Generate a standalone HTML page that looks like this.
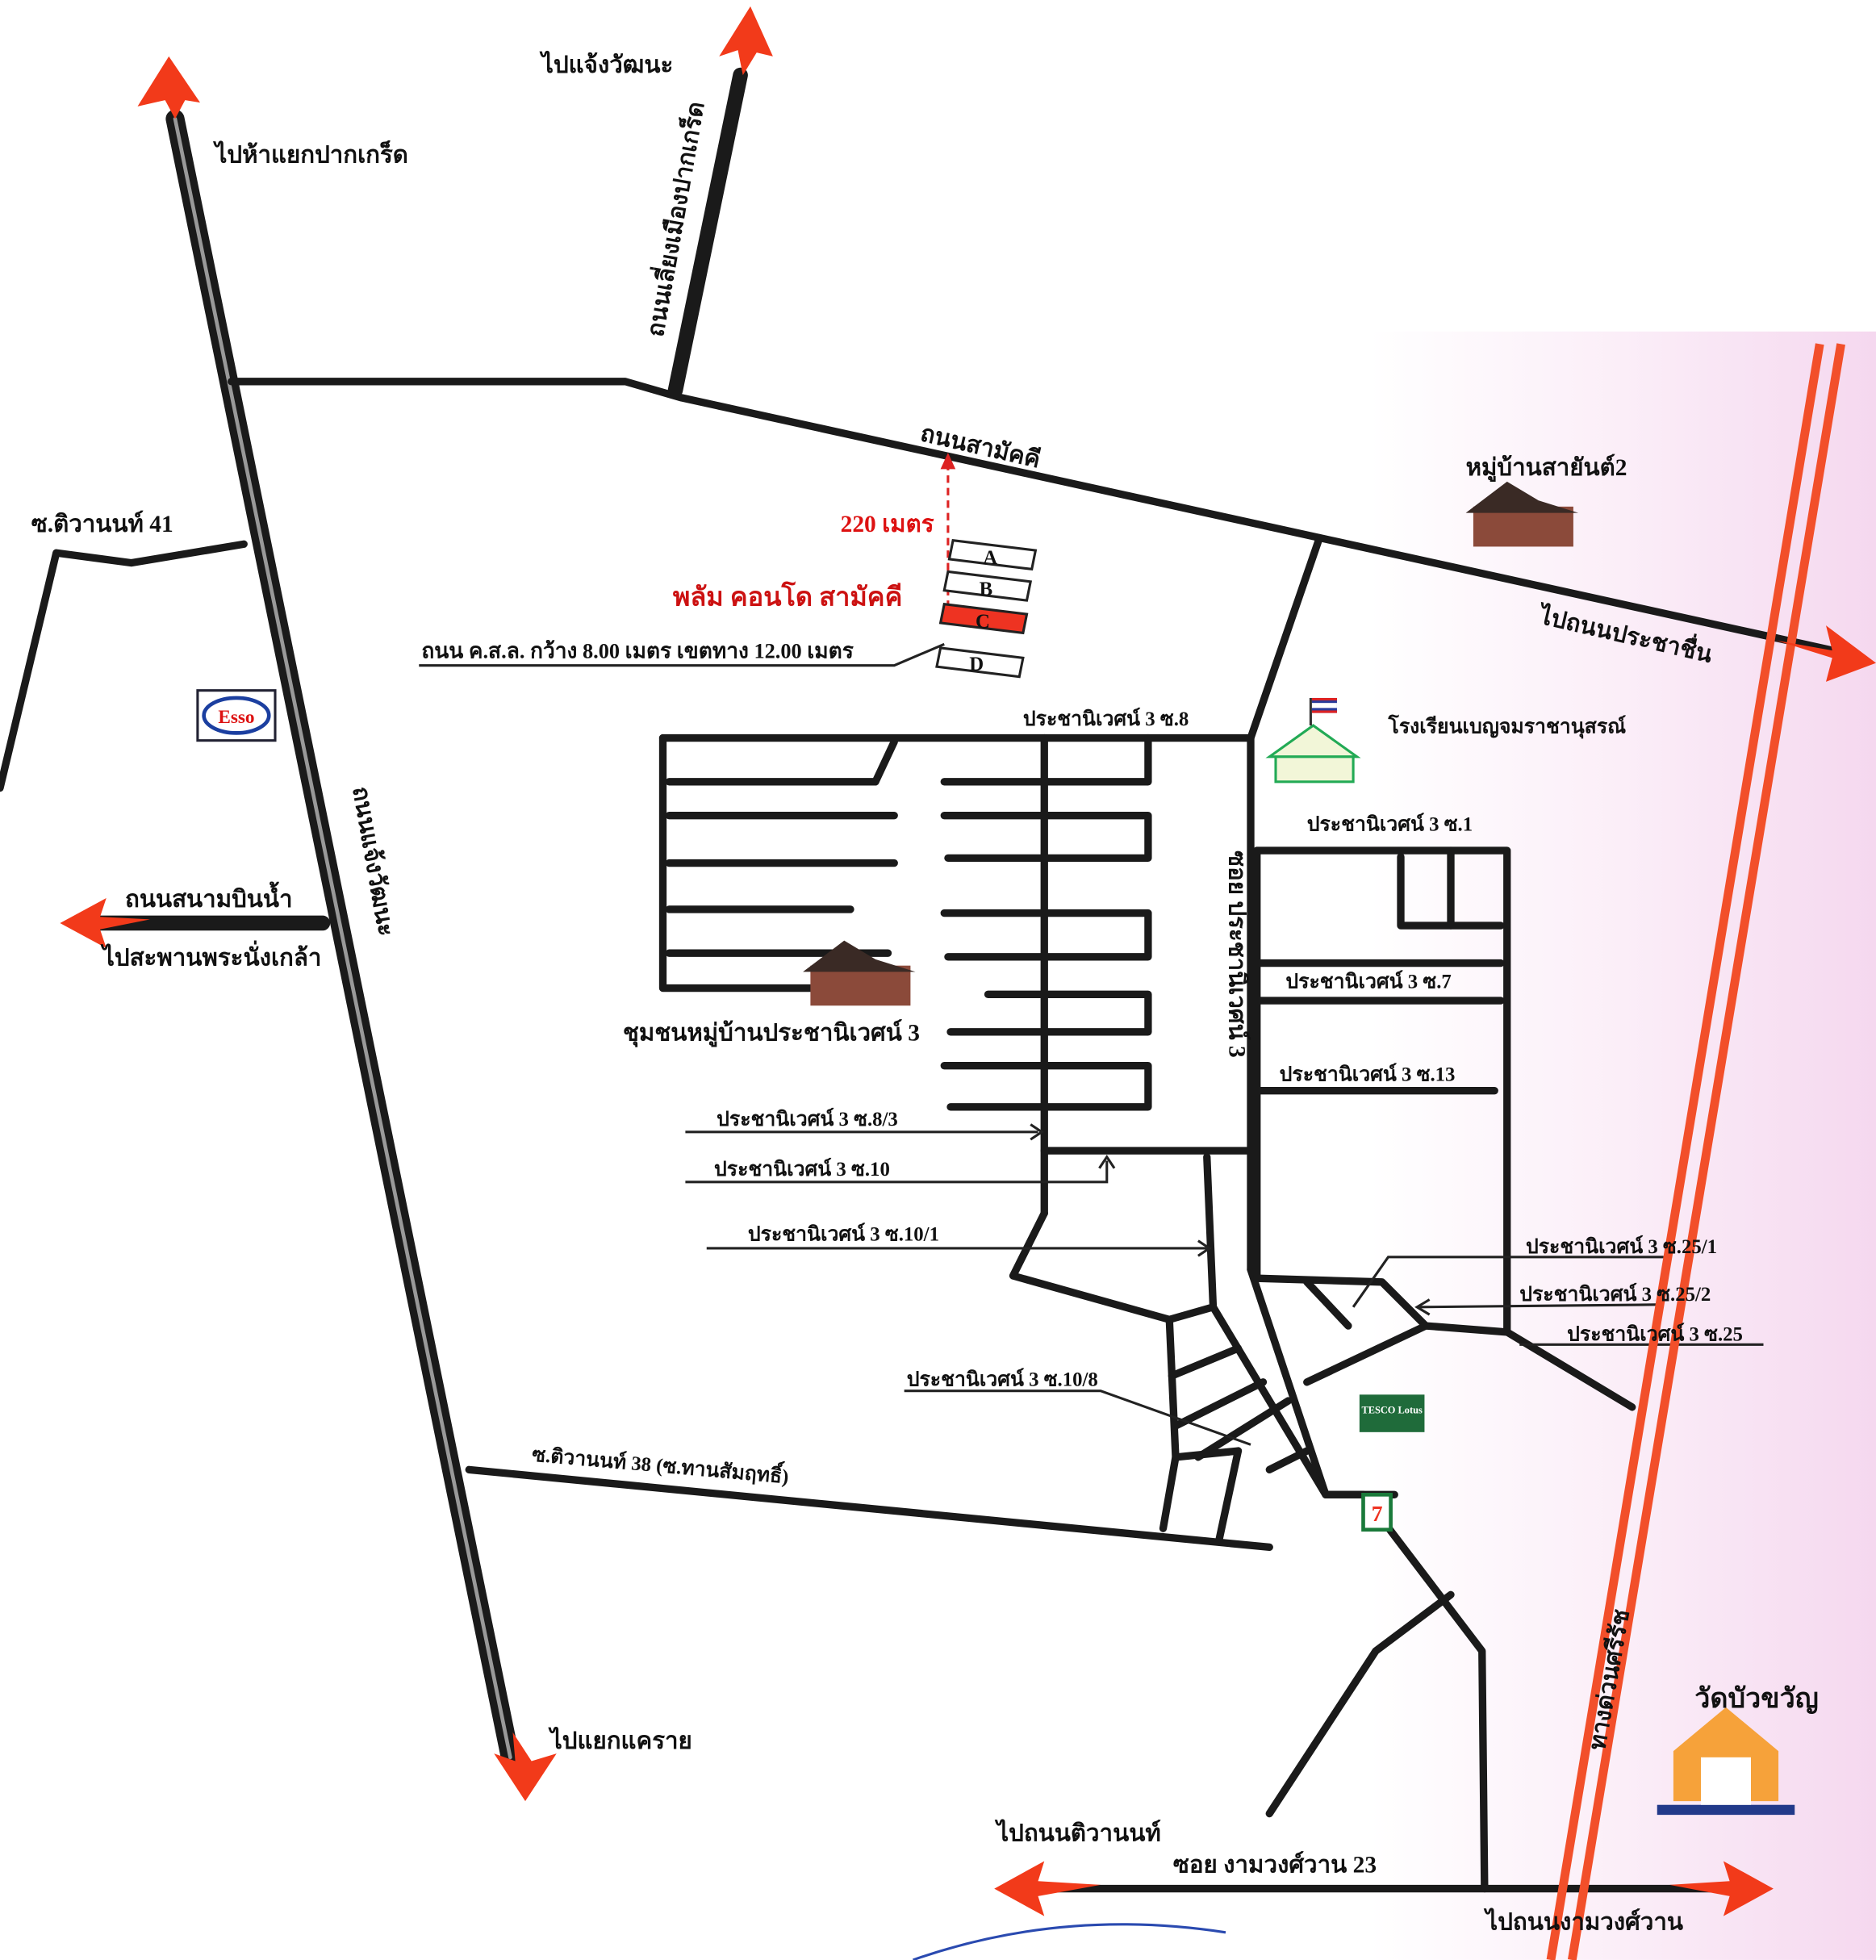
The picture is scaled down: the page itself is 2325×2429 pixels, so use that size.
<!DOCTYPE html>
<html><head><meta charset="utf-8"><style>
html,body{margin:0;padding:0;background:#fff}
svg{display:block}
text{font-family:"Liberation Serif","Noto Serif CJK SC",serif;font-weight:bold;fill:#111}
</style></head><body>
<svg width="2325" height="2429" viewBox="0 0 1500 1567" xmlns="http://www.w3.org/2000/svg">
<defs>
<linearGradient id="pk" x1="0" x2="1"><stop offset="0" stop-color="#fff"/><stop offset="0.5" stop-color="#fbeef8"/><stop offset="1" stop-color="#f5d8ef"/></linearGradient>
</defs>
<rect width="1500" height="1567" fill="#fff"/>
<rect x="1095" y="265" width="405" height="1302" fill="url(#pk)"/>
<g stroke="#1a1a1a" stroke-width="6" fill="none" stroke-linecap="round" stroke-linejoin="round">
<line x1="140" y1="95" x2="408" y2="1405" stroke-width="15"/>
<line x1="140" y1="95" x2="408" y2="1405" stroke="#999" stroke-width="3"/>
<polyline points="185,305 500,305 545,318 1420,510"/>
<line x1="1420" y1="510" x2="1470" y2="521" stroke="#1a1a1a"/>
<line x1="540" y1="312" x2="592" y2="60" stroke-width="12"/>
<polyline points="195,435 105,450 45,442 0,630"/>
<line x1="80" y1="738" x2="258" y2="738" stroke-width="12"/>
<polyline points="1055,430 1000,590"/>
<polyline points="530,590 1000,590 1000,1015"/>
<polyline points="530,590 530,790 660,790"/>
<line x1="535" y1="625" x2="700" y2="625"/><line x1="700" y1="625" x2="715" y2="593"/>
<line x1="535" y1="652" x2="715" y2="652"/>
<line x1="535" y1="690" x2="715" y2="690"/>
<line x1="535" y1="727" x2="680" y2="727"/>
<line x1="535" y1="762" x2="710" y2="762"/>
<line x1="835" y1="590" x2="835" y2="970"/>
<polyline points="918,590 918,625 755,625"/>
<polyline points="755,652 918,652 918,686 758,686"/>
<polyline points="755,730 918,730 918,765 758,765"/>
<polyline points="790,795 918,795 918,825 760,825"/>
<polyline points="755,852 918,852 918,885 760,885"/>
<line x1="835" y1="920" x2="1000" y2="920"/>
<polyline points="835,970 810,1020 935,1055 970,1045 965,925"/>
<polyline points="935,1055 940,1165 930,1222"/>
<polyline points="1000,1015 1060,1195 1115,1195"/>
<line x1="970" y1="1045" x2="1060" y2="1195"/>
<polyline points="1060,1195 1090,1195 1185,1320 1187,1510"/>
<line x1="937" y1="1100" x2="990" y2="1078"/>
<line x1="940" y1="1140" x2="1010" y2="1105"/>
<line x1="958" y1="1165" x2="1030" y2="1120"/>
<line x1="1015" y1="1175" x2="1045" y2="1160"/>
<line x1="940" y1="1165" x2="990" y2="1160"/>
<line x1="990" y1="1160" x2="975" y2="1230"/>
<polyline points="1005,680 1205,680 1205,1065"/>
<line x1="1160" y1="680" x2="1160" y2="740"/>
<polyline points="1120,685 1120,740 1200,740"/>
<line x1="1005" y1="770" x2="1200" y2="770"/>
<line x1="1005" y1="800" x2="1200" y2="800"/>
<line x1="1005" y1="872" x2="1195" y2="872"/>
<line x1="1005" y1="680" x2="1005" y2="1020"/>
<polyline points="1005,1022 1105,1025 1140,1060"/>
<line x1="1045" y1="1025" x2="1078" y2="1060"/>
<polyline points="1045,1105 1140,1060 1205,1065 1305,1125"/>
<line x1="375" y1="1175" x2="1015" y2="1237"/>
<polyline points="1160,1275 1100,1320 1015,1450"/>
<line x1="820" y1="1510" x2="1380" y2="1510"/>
</g>
<g stroke="#222" stroke-width="2" fill="none">
<line x1="548" y1="905" x2="830" y2="905"/><path d="M824,899 L833,905 L824,911"/>
<polyline points="548,945 885,945 885,928"/><path d="M879,934 L885,925 L891,934"/>
<line x1="565" y1="998" x2="965" y2="998"/><path d="M958,992 L967,998 L958,1004"/>
<polyline points="1330,1005 1110,1005 1082,1045"/>
<line x1="1330" y1="1043" x2="1135" y2="1045"/><path d="M1143,1039 L1133,1045 L1143,1051"/>
<line x1="1410" y1="1075" x2="1215" y2="1075"/>
<polyline points="723,1112 880,1112 1000,1155"/>
<polyline points="335,532 715,532 755,515"/>
</g>
<g stroke="#f24f2a" stroke-width="7">
<line x1="1472" y1="275" x2="1257" y2="1567"/>
<line x1="1455" y1="275" x2="1240" y2="1567"/>
</g>
<g fill="#f23a1a" stroke="none">
<polygon points="135,45 110,85 132,80 140,95 148,80 160,82"/>
<polygon points="600,5 575,45 590,40 594,60 605,42 618,45"/>
<polygon points="1500,530 1460,500 1465,520 1420,512 1465,526 1460,545"/>
<polygon points="48,738 85,718 80,733 120,735 80,743 85,758"/>
<polygon points="420,1440 395,1402 412,1408 410,1385 425,1408 445,1402"/>
<polygon points="795,1510 835,1488 830,1504 880,1507 830,1516 835,1532"/>
<polygon points="1418,1510 1378,1488 1383,1504 1335,1507 1383,1516 1378,1532"/>
</g>
<line x1="758" y1="370" x2="758" y2="490" stroke="#d22" stroke-width="2" stroke-dasharray="6,4"/>
<polygon points="758,362 752,375 764,375" fill="#d22"/>
<g stroke="#222" stroke-width="2" fill="#fff" font-size="16">
<polygon points="762,432 828,440 825,455 759,447"/>
<polygon points="758,457 824,465 821,480 755,472"/>
<polygon points="755,483 821,491 818,506 752,498" fill="#e32"/>
<polygon points="752,518 818,526 815,541 749,533"/>
</g>
<text x="786" y="451" font-size="16">A</text><text x="783" y="476" font-size="16">B</text>
<text x="780" y="502" font-size="16">C</text><text x="775" y="536" font-size="16">D</text>
<rect x="158" y="552" width="62" height="40" fill="#fff" stroke="#223" stroke-width="2"/>
<ellipse cx="189" cy="572" rx="26" ry="14" fill="#fff" stroke="#1b3fa0" stroke-width="3"/>
<text x="189" y="578" font-size="15" text-anchor="middle" style="fill:#d11">Esso</text>
<g>
<rect x="1178" y="405" width="80" height="32" fill="#8b4a3a"/><polygon points="1172,410 1205,385 1230,400 1262,410" fill="#3a2a25"/>
<rect x="648" y="772" width="80" height="32" fill="#8b4a3a"/><polygon points="642,777 675,752 700,767 732,777" fill="#3a2a25"/>
</g>
<g stroke="#2a5" stroke-width="2" fill="#f2f6d8">
<polygon points="1015,605 1050,580 1085,605"/><rect x="1020" y="605" width="62" height="20"/>
</g>
<line x1="1048" y1="580" x2="1048" y2="558" stroke="#333" stroke-width="2"/>
<rect x="1049" y="558" width="20" height="12" fill="#2a3b9a"/><rect x="1049" y="562" width="20" height="4" fill="#fff"/><rect x="1049" y="558" width="20" height="2" fill="#d22"/><rect x="1049" y="568" width="20" height="2" fill="#d22"/>
<rect x="1087" y="1115" width="52" height="30" fill="#1f6b3a"/>
<text x="1113" y="1130" font-size="8" text-anchor="middle" style="fill:#fff">TESCO Lotus</text>
<rect x="1090" y="1195" width="22" height="28" fill="#fff" stroke="#1a7a3a" stroke-width="3"/>
<text x="1101" y="1216" font-size="18" text-anchor="middle" style="fill:#e32">7</text>
<g>
<rect x="1325" y="1443" width="110" height="8" fill="#223a8a"/>
<polygon points="1338,1440 1338,1400 1380,1365 1422,1400 1422,1440" fill="#f6a23a"/>
<rect x="1360" y="1405" width="40" height="38" fill="#fff"/>
</g>
<g font-size="19">
<text x="433" y="58">ไปแจ้งวัฒนะ</text>
<text x="172" y="130">ไปห้าแยกปากเกร็ด</text>
<text x="530" y="270" transform="rotate(-80 530 270)">ถนนเลี่ยงเมืองปากเกร็ด</text>
<text x="735" y="352" transform="rotate(13 735 352)">ถนนสามัคคี</text>
<text x="1172" y="380">หมู่บ้านสายันต์2</text>
<text x="1230" y="498" transform="rotate(13 1230 498)">ไปถนนประชาชื่น</text>
<text x="25" y="425">ซ.ติวานนท์ 41</text>
<text x="672" y="425" style="fill:#d11">220 เมตร</text>
<text x="538" y="484" font-size="21" style="fill:#c11">พลัม คอนโด สามัคคี</text>
<text x="337" y="526" font-size="17">ถนน ค.ส.ล.  กว้าง 8.00 เมตร เขตทาง 12.00 เมตร</text>
<text x="818" y="580" font-size="16">ประชานิเวศน์ 3 ซ.8</text>
<text x="1110" y="586" font-size="16">โรงเรียนเบญจมราชานุสรณ์</text>
<text x="1045" y="664" font-size="16">ประชานิเวศน์ 3 ซ.1</text>
<text x="282" y="630" transform="rotate(80 282 630)">ถนนแจ้งวัฒนะ</text>
<text x="100" y="725">ถนนสนามบินน้ำ</text>
<text x="82" y="772">ไปสะพานพระนั่งเกล้า</text>
<text x="983" y="680" transform="rotate(90 983 680)">ซอย ประชานิเวศน์ 3</text>
<text x="1028" y="790" font-size="16">ประชานิเวศน์ 3 ซ.7</text>
<text x="498" y="832">ชุมชนหมู่บ้านประชานิเวศน์ 3</text>
<text x="1023" y="864" font-size="16">ประชานิเวศน์ 3 ซ.13</text>
<text x="573" y="900" font-size="16">ประชานิเวศน์ 3 ซ.8/3</text>
<text x="571" y="940" font-size="16">ประชานิเวศน์ 3 ซ.10</text>
<text x="598" y="992" font-size="16">ประชานิเวศน์ 3 ซ.10/1</text>
<text x="1220" y="1002" font-size="16">ประชานิเวศน์ 3 ซ.25/1</text>
<text x="1215" y="1040" font-size="16">ประชานิเวศน์ 3 ซ.25/2</text>
<text x="1253" y="1072" font-size="16">ประชานิเวศน์ 3 ซ.25</text>
<text x="725" y="1108" font-size="16">ประชานิเวศน์ 3 ซ.10/8</text>
<text x="425" y="1168" font-size="16" transform="rotate(5 425 1168)">ซ.ติวานนท์ 38 (ซ.ทานสัมฤทธิ์)</text>
<text x="1283" y="1400" transform="rotate(-80 1283 1400)">ทางด่วนศรีรัช</text>
<text x="1355" y="1365" font-size="22">วัดบัวขวัญ</text>
<text x="440" y="1398">ไปแยกแคราย</text>
<text x="797" y="1472">ไปถนนติวานนท์</text>
<text x="938" y="1497">ซอย งามวงศ์วาน 23</text>
<text x="1188" y="1543">ไปถนนงามวงศ์วาน</text>
</g>
<path d="M730,1567 Q850,1525 980,1545" stroke="#2a4ab0" stroke-width="2" fill="none"/>
</svg>
</body></html>
